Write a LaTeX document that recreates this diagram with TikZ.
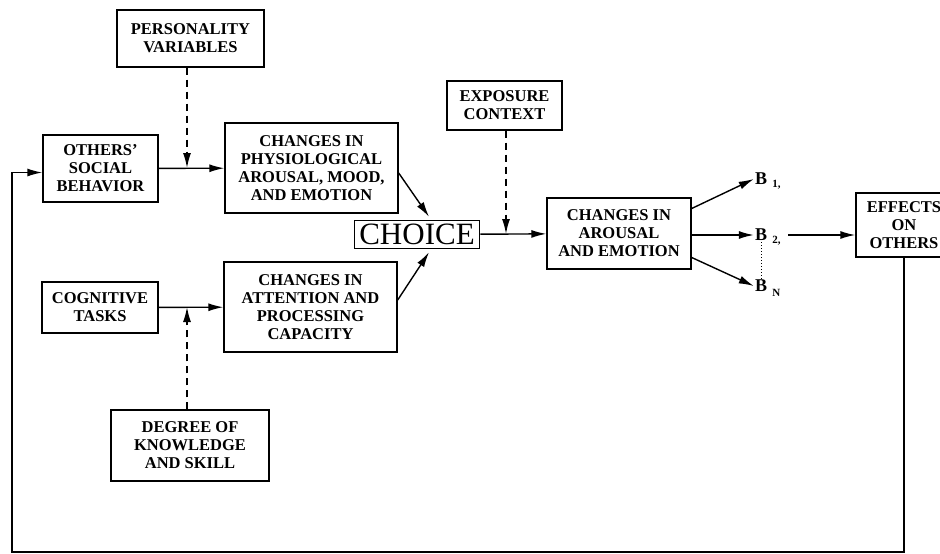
\documentclass[tikz,border=0pt]{standalone}
\usepackage{fontspec}
\setmainfont{Liberation Serif}
\usetikzlibrary{arrows.meta}
\begin{document}
\begin{tikzpicture}[x=1pt,y=-1pt,
  box/.style={draw,line width=1.4pt,align=center,inner sep=1pt,
    font=\fontsize{16.5}{18}\selectfont\bfseries},
  bnode/.style={inner sep=1pt,font=\fontsize{18}{18}\selectfont\bfseries},
  sub/.style={font=\fontsize{11}{11}\selectfont\bfseries,inner sep=0pt},
  arr/.style={line width=1.4pt,-{Latex[length=15pt,width=8pt]}},
  darr/.style={line width=1.5pt,dash pattern=on 7pt off 5pt,-{Latex[length=15pt,width=8pt]}},
  ln/.style={line width=1.4pt}]
\useasboundingbox (0,0) rectangle (940,554);
\node[box,minimum width=147pt,minimum height=57pt] (pv) at (190.5,38.5) {PERSONALITY\\VARIABLES};
\node[box,minimum width=115pt,minimum height=67pt] (osb) at (100.5,168.5) {OTHERS'\\SOCIAL\\BEHAVIOR};
\node[box,minimum width=173pt,minimum height=90pt] (phys) at (311.5,168) {CHANGES IN\\PHYSIOLOGICAL\\AROUSAL, MOOD,\\AND EMOTION};
\node[draw,line width=1.6pt,inner sep=0pt,minimum width=125pt,minimum height=28pt,font=\fontsize{31}{31}\selectfont] (choice) at (417,234.5) {CHOICE};
\node[box,minimum width=173pt,minimum height=90pt] (attn) at (310.5,307) {CHANGES IN\\ATTENTION AND\\PROCESSING\\CAPACITY};
\node[box,minimum width=116pt,minimum height=51pt] (cog) at (100,307.5) {COGNITIVE\\TASKS};
\node[box,minimum width=158pt,minimum height=71pt] (dk) at (190,445.5) {DEGREE OF\\KNOWLEDGE\\AND SKILL};
\node[box,minimum width=115pt,minimum height=49pt] (exp) at (504.5,105.5) {EXPOSURE\\CONTEXT};
\node[box,minimum width=144pt,minimum height=71pt] (aro) at (619,233.5) {CHANGES IN\\AROUSAL\\AND EMOTION};
\node[box,minimum width=96pt,minimum height=64pt] (eff) at (904,225) {EFFECTS\\ON\\OTHERS};
\node[bnode,label={[sub,anchor=base west,xshift=4pt,yshift=-3pt]base east:1,}] (b1) at (761,179) {B};
\node[bnode,label={[sub,anchor=base west,xshift=4pt,yshift=-3pt]base east:2,}] (b2) at (761,235) {B};
\node[bnode,label={[sub,anchor=base west,xshift=4pt,yshift=-5pt]base east:N}] (bn) at (761,286) {B};
\coordinate (j1) at (187,168);
\coordinate (j2) at (187,307);
\coordinate (j3) at (506,234);
\coordinate (fb) at (12,552);
% connectors
\draw[arr] (osb) -- (phys);
\draw[darr] (pv.south -| j1) -- (j1);
\draw[arr] (cog) -- (attn);
\draw[darr] (dk.north -| j2) -- (j2);
\draw[arr] ([yshift=-5pt]phys.east) -- ([xshift=12pt,yshift=3pt]choice.north);
\draw[arr] ([yshift=7pt]attn.east) -- ([xshift=12pt,yshift=-3pt]choice.south);
\draw[arr] (choice) -- (aro);
\draw[darr] (exp.south -| j3) -- (j3);
\draw[arr] ([yshift=25pt]aro.east) -- (b1.west);
\draw[arr] (aro.east |- b2) -- (b2.west);
\draw[arr] ([yshift=-24pt]aro.east) -- (bn.west);
\draw[line width=1pt,dotted] (b2.south) -- (bn.north);
\draw[arr] ([xshift=20pt]b2.east) -- (b2.east -| eff.west);
\draw[arr] (eff.south) |- (fb) |- ([yshift=-4pt]osb.west);
\end{tikzpicture}
\end{document}
